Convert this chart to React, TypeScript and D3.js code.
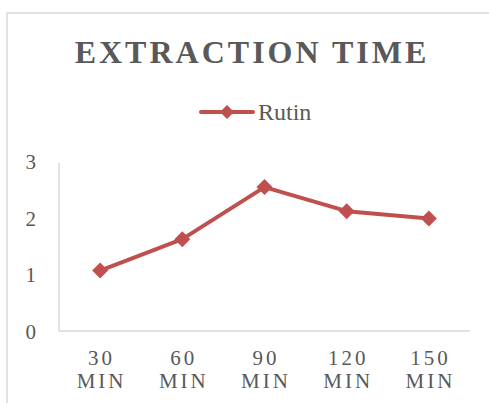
import React from "react";
import * as d3 from "d3";

const categories = ["30 MIN", "60 MIN", "90 MIN", "120 MIN", "150 MIN"];
const rutin = [1.08, 1.64, 2.57, 2.14, 2.01];
const yTicks = [0, 1, 2, 3];
const seriesName = "Rutin";
const title = "EXTRACTION TIME";

const W = 489, H = 403;
const FONT = "'Liberation Serif', 'Times New Roman', serif";
const RED = "#c0504d";
const GRAY = "#595959";

export default function App() {
  const margin = { left: 59, right: 19, top: 163, bottom: 72 };
  const x = d3.scaleBand<string>().domain(categories).range([margin.left, W - margin.right]);
  const y = d3.scaleLinear().domain([0, 3]).range([H - margin.bottom, margin.top]);
  const line = d3.line<number>()
    .x((_, i) => (x(categories[i]) as number) + x.bandwidth() / 2)
    .y((d) => y(d));
  const diamond = (cx: number, cy: number, r: number) =>
    `M${cx},${cy - r}L${cx + r},${cy}L${cx},${cy + r}L${cx - r},${cy}Z`;

  return (
    <svg width={W} height={H} style={{ position: "absolute", left: 0, top: 0, background: "#fff" }}>
      <rect x={7} y={13} width={500} height={420} fill="#fff" stroke="#d9d9d9" strokeWidth={1.5} />
      <text x={252} y={63} textAnchor="middle" fontFamily={FONT} fontWeight="bold" fontSize={32}
        letterSpacing={3} fill={GRAY}>{title}</text>
      <g>
        <line x1={201} x2={253} y1={112} y2={112} stroke={RED} strokeWidth={4} strokeLinecap="round" />
        <path d={diamond(227, 112, 7)} fill={RED} />
        <text x={258} y={120} fontFamily={FONT} fontSize={24} fill={GRAY}>{seriesName}</text>
      </g>
      <line x1={margin.left} x2={margin.left} y1={y(3)} y2={y(0)} stroke="#d9d9d9" strokeWidth={1.5} />
      <line x1={margin.left} x2={W - margin.right} y1={y(0)} y2={y(0)} stroke="#d9d9d9" strokeWidth={1.5} />
      {yTicks.map((t) => (
        <text key={t} x={36} y={y(t) + 6 + (1 - t / 3) * 2} textAnchor="end" fontFamily={FONT} fontSize={21} fill={GRAY}>{t}</text>
      ))}
      {categories.map((c) => {
        const [a, b] = c.split(" ");
        const cx = (x(c) as number) + x.bandwidth() / 2;
        return (
          <g key={c}>
            <text x={cx + 1.5} y={365} textAnchor="middle" fontFamily={FONT} fontSize={21} letterSpacing={3} fill={GRAY}>{a}</text>
            <text x={cx + 1.5} y={388} textAnchor="middle" fontFamily={FONT} fontSize={21} letterSpacing={3} fill={GRAY}>{b}</text>
          </g>
        );
      })}
      <path d={line(rutin) || ""} fill="none" stroke={RED} strokeWidth={4} strokeLinejoin="round" />
      {rutin.map((v, i) => (
        <path key={i} d={diamond((x(categories[i]) as number) + x.bandwidth() / 2, y(v), 8)} fill={RED} />
      ))}
    </svg>
  );
}
